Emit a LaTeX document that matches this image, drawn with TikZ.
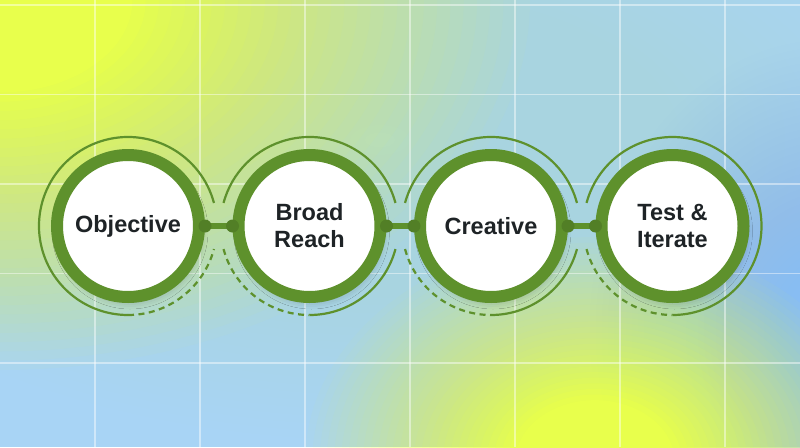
\documentclass[tikz,border=0pt]{standalone}
\usepackage{fontspec}
\setmainfont{Liberation Sans}
\usetikzlibrary{shadows.blur,calc}

\definecolor{ringg}{HTML}{5E912C}
\definecolor{dotg}{HTML}{527F26}
\definecolor{bgblue}{HTML}{A8D4F5}
\definecolor{midteal}{HTML}{B2DEE0}
\definecolor{yel}{HTML}{E8FF4C}
\definecolor{deepblue}{HTML}{88BDF7}
\definecolor{txt}{HTML}{1E2326}

% soft radial blob: colour, cx, cy, rx, ry, steepness
\newcommand{\bgblob}[6]{%
  \foreach \j in {1,...,40}{%
    \pgfmathsetmacro{\Tp}{min(1,#6*(\j-1)/40)}%
    \pgfmathsetmacro{\Tc}{min(1,#6*\j/40)}%
    \pgfmathsetmacro{\op}{1-(1-\Tc)/max(1-\Tp,0.001)}%
    \pgfmathsetmacro{\rad}{(41-\j)/40}%
    \fill[#1, opacity=\op] (#2,#3) ellipse [x radius={#4*\rad}, y radius={#5*\rad}];
  }}

\tikzset{
  stage/.style={circle, minimum size=142pt, inner sep=0pt, draw=ringg, line width=12pt,
    fill=white, font=\bfseries\fontsize{23.5}{27}\selectfont, text=txt, align=center,
    blur shadow={shadow xshift=2pt, shadow yshift=-5pt, shadow blur radius=7pt, shadow opacity=22}},
  gridl/.style={white, opacity=0.45, line width=1.1pt},
  arcsolid/.style={ringg, line width=2.2pt},
  arcdash/.style={ringg, line width=2.2pt, dash pattern=on 6pt off 4.5pt},
  link/.style={ringg, line width=6pt},
  joint/.style={dotg}
}

\begin{document}
\begin{tikzpicture}[x=1pt,y=-1pt]
\useasboundingbox (0,0) rectangle (800,447);
\begin{scope}
  \clip (0,0) rectangle (800,447);
  \fill[bgblue] (0,0) rectangle (800,447);
  \bgblob{midteal}{380}{140}{600}{300}{0.85}
  \bgblob{yel}{0}{0}{530}{370}{1.3}
  \bgblob{deepblue}{830}{330}{240}{290}{1.1}
  \bgblob{yel}{595}{462}{290}{225}{1.35}
  \foreach \x in {95,200,305,410,515,620,725} \draw[gridl] (\x,0) -- (\x,447);
  \foreach \y in {5,94.5,184,273.5,363} \draw[gridl] (0,\y) -- (800,\y);
\end{scope}

\coordinate (c1) at (128,226);
\coordinate (c2) at (309.5,226);
\coordinate (c3) at (491,226);
\coordinate (c4) at (672.5,226);

% outer thin arcs
\draw[arcsolid] ($(c1)+(15:89pt)$) arc[start angle=15, end angle=270, radius=89pt];
\draw[arcdash] ($(c1)+(270:89pt)$) arc[start angle=270, end angle=345, radius=89pt];

\draw[arcsolid] ($(c2)+(15:89pt)$) arc[start angle=15, end angle=165, radius=89pt];
\draw[arcdash] ($(c2)+(195:89pt)$) arc[start angle=195, end angle=270, radius=89pt];
\draw[arcsolid] ($(c2)+(270:89pt)$) arc[start angle=270, end angle=345, radius=89pt];

\draw[arcsolid] ($(c3)+(15:89pt)$) arc[start angle=15, end angle=165, radius=89pt];
\draw[arcdash] ($(c3)+(195:89pt)$) arc[start angle=195, end angle=270, radius=89pt];
\draw[arcsolid] ($(c3)+(270:89pt)$) arc[start angle=270, end angle=345, radius=89pt];

\draw[arcsolid] ($(c4)+(-90:89pt)$) arc[start angle=-90, end angle=165, radius=89pt];
\draw[arcdash] ($(c4)+(195:89pt)$) arc[start angle=195, end angle=270, radius=89pt];

% stages
\node[stage] (obj) at (c1) {Objective};
\node[stage] (broad) at (c2) {Broad\\Reach};
\node[stage] (crea) at (c3) {Creative};
\node[stage] (test) at (c4) {Test \&\\Iterate};

% connectors
\draw[link] (obj.east) -- (broad.west);
\draw[link] (broad.east) -- (crea.west);
\draw[link] (crea.east) -- (test.west);
\foreach \n in {obj,broad,crea} \fill[joint] (\n.east) circle (6.5pt);
\foreach \n in {broad,crea,test} \fill[joint] (\n.west) circle (6.5pt);
\end{tikzpicture}
\end{document}
